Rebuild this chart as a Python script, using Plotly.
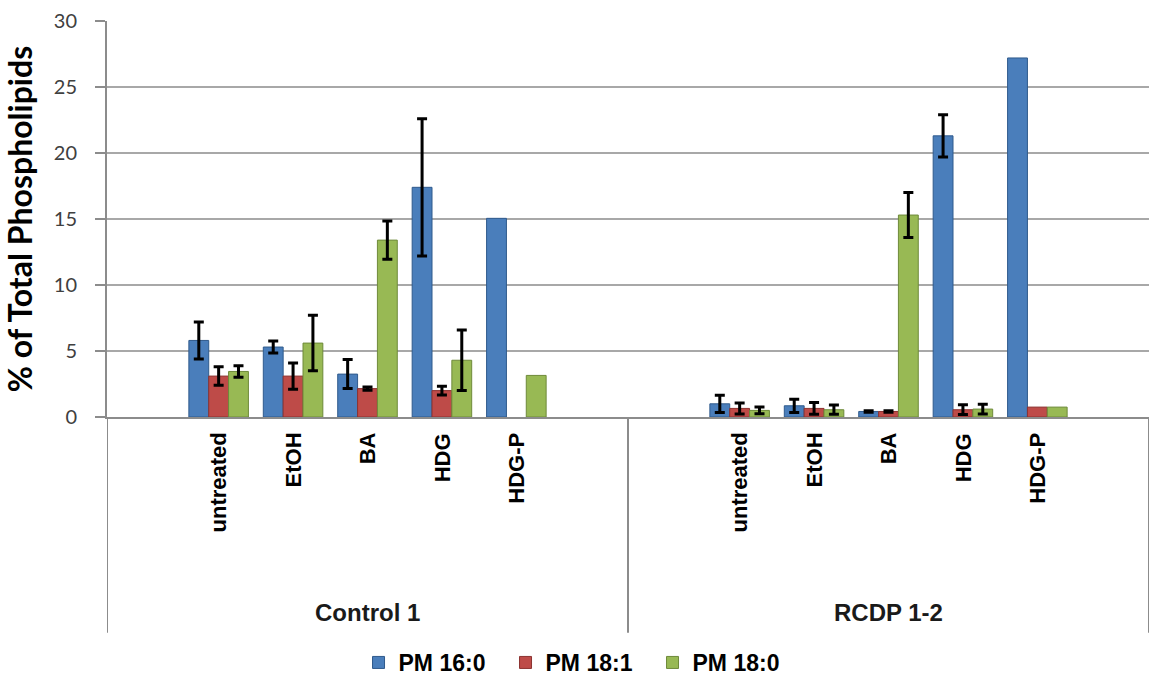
import plotly.graph_objects as go

# ---- data ----
groups = ["Control 1", "RCDP 1-2"]
treatments = ["untreated", "EtOH", "BA", "HDG", "HDG-P"]
series_names = ["PM 16:0", "PM 18:1", "PM 18:0"]

ctrl_pm160 = [5.8, 5.3, 3.25, 17.4, 15.05]
ctrl_pm160_err = [1.4, 0.45, 1.1, 5.2, None]
ctrl_pm181 = [3.1, 3.1, 2.15, 2.0, None]
ctrl_pm181_err = [0.7, 1.0, 0.12, 0.33, None]
ctrl_pm180 = [3.45, 5.6, 13.4, 4.3, 3.15]
ctrl_pm180_err = [0.44, 2.1, 1.45, 2.3, None]

rcdp_pm160 = [1.0, 0.85, 0.42, 21.3, 27.2]
rcdp_pm160_err = [0.65, 0.5, 0.06, 1.6, None]
rcdp_pm181 = [0.65, 0.65, 0.42, 0.55, 0.75]
rcdp_pm181_err = [0.42, 0.45, 0.06, 0.37, None]
rcdp_pm180 = [0.5, 0.55, 15.3, 0.6, 0.75]
rcdp_pm180_err = [0.25, 0.35, 1.7, 0.37, None]

colors = ["#4A7EBB", "#BE4B48", "#98B954"]
edge_colors = ["#2F5A8C", "#8C3230", "#6E8A3A"]

# ---- category slots: one empty slot at each side of every group ----
slots = []
slot_of = {}
for g in groups:
    slots.append(g + "|pad_l")
    for t in treatments:
        key = g + "|" + t
        slots.append(key)
        slot_of[(g, t)] = key
    slots.append(g + "|pad_r")


def expand(ctrl_vals, rcdp_vals):
    out = []
    for vals in (ctrl_vals, rcdp_vals):
        out.append(None)
        out.extend(vals)
        out.append(None)
    return out


series_vals = [
    (expand(ctrl_pm160, rcdp_pm160), expand(ctrl_pm160_err, rcdp_pm160_err)),
    (expand(ctrl_pm181, rcdp_pm181), expand(ctrl_pm181_err, rcdp_pm181_err)),
    (expand(ctrl_pm180, rcdp_pm180), expand(ctrl_pm180_err, rcdp_pm180_err)),
]

fig = go.Figure()
for i, (name, (vals, errs), c, ec) in enumerate(zip(series_names, series_vals, colors, edge_colors)):
    fig.add_trace(go.Bar(
        name=name, x=slots, y=vals, offsetgroup=str(i),
        marker=dict(color=c, line=dict(color=ec, width=1)),
    ))
    # error bars only where an error value exists
    err_y = [v if e is not None else None for v, e in zip(vals, errs)]
    err_arr = [e if e is not None else 0 for e in errs]
    fig.add_trace(go.Bar(
        name=name, x=slots, y=err_y, offsetgroup=str(i), showlegend=False,
        marker=dict(color="rgba(0,0,0,0)", line=dict(width=0)),
        error_y=dict(type="data", array=err_arr, visible=True,
                     color="#000000", thickness=3, width=5),
        hoverinfo="skip",
    ))

label_font = dict(family="Liberation Sans", size=22, color="#000000", weight="bold")

annotations = []
for g in groups:
    for t in treatments:
        annotations.append(dict(
            x=slot_of[(g, t)], y=-0.035, xref="x", yref="paper",
            text=t, textangle=-90, showarrow=False,
            xanchor="center", yanchor="top", font=label_font,
        ))
    annotations.append(dict(
        x=slot_of[(g, "BA")], y=-0.494, xref="x", yref="paper",
        text=g, showarrow=False, xanchor="center", yanchor="middle",
        font=dict(family="Liberation Sans", size=24, color="#1A1A1A", weight="bold"),
    ))

shapes = []
for xpos in (-0.5, 6.5, 13.5):
    shapes.append(dict(type="line", xref="x", yref="paper",
                       x0=xpos, x1=xpos, y0=0, y1=-0.545,
                       line=dict(color="#8C8C8C", width=2)))

fig.update_layout(
    width=1149, height=684, autosize=False,
    margin=dict(l=107, r=0, t=21, b=264),
    paper_bgcolor="white", plot_bgcolor="white",
    barmode="group", bargap=0.2, bargroupgap=0.0,
    showlegend=True,
    legend=dict(orientation="h", x=0.453, xanchor="center", y=-0.62, yanchor="middle",
                font=dict(family="Liberation Sans", size=23, color="#000000", weight="bold"),
                itemwidth=30, entrywidth=102, traceorder="normal"),
    annotations=annotations,
    shapes=shapes,
    xaxis=dict(type="category", categoryorder="array", categoryarray=slots,
               range=[-0.5, 13.5], showticklabels=False, ticks="",
               showline=True, linecolor="#8C8C8C", linewidth=2,
               showgrid=False, zeroline=False, fixedrange=True),
    yaxis=dict(range=[0, 30], dtick=5, tick0=0,
               showgrid=True, gridcolor="#A8A8A8", gridwidth=1.5,
               showline=True, linecolor="#8C8C8C", linewidth=2,
               ticks="outside", ticklen=10, tickcolor="#8C8C8C", tickwidth=1.5,
               ticklabelstandoff=14,
               tickfont=dict(family="Lato", size=20, color="#404040"),
               zeroline=False, fixedrange=True,
               title=dict(text="% of Total Phospholipids", standoff=12,
                          font=dict(family="Lato", size=32, color="#000000", weight="bold"))),
)

fig.write_html("out.html")
